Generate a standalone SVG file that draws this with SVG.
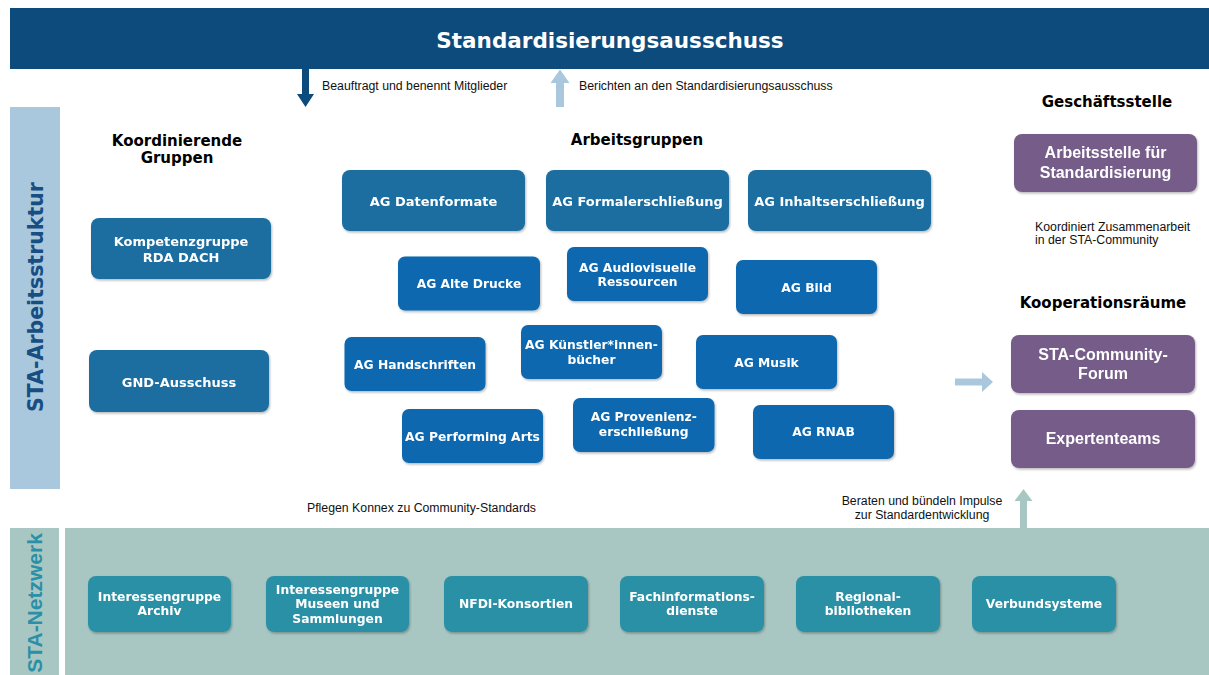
<svg xmlns="http://www.w3.org/2000/svg" width="1209" height="675" viewBox="0 0 1209 675">
<defs>
<filter id="sh" x="-10%" y="-10%" width="125%" height="135%">
<feDropShadow dx="1" dy="1.5" stdDeviation="1.2" flood-color="#000" flood-opacity="0.28"/>
</filter>
<style>
.v{font-family:"DejaVu Sans","Verdana",sans-serif;font-weight:bold}
.a{font-family:"Liberation Sans","Arial",sans-serif}
.ab{font-family:"Liberation Sans","Arial",sans-serif;font-weight:700}
.nt{font-size:12.3px;fill:#fff;text-anchor:middle}
.nt1{font-size:13px;fill:#fff;text-anchor:middle}
.hd{font-size:15px;fill:#000;text-anchor:middle}
.lb{font-size:12.3px;fill:#111}
.pt{font-size:16px;fill:#fff;text-anchor:middle}
.dk{fill:#1a6ea0}
.br{fill:#0a68b0}
.tl{fill:#2b90a6}
.pu{fill:#765d89}
</style>
</defs>
<rect width="1209" height="675" fill="#fff"/>

<g id="banner">
<rect x="10" y="8" width="1199" height="61" fill="#0d4b7c"/>
<text class="v" x="610" y="48" font-size="21.5" fill="#fff" text-anchor="middle">Standardisierungsausschuss</text>
</g>

<g id="arbeitsstruktur-bar">
<rect x="10" y="107" width="50" height="382" fill="#a9c8de"/>
<text class="v" transform="translate(42.5,297) rotate(-90)" font-size="20.5" fill="#174f82" text-anchor="middle">STA-Arbeitsstruktur</text>
</g>

<g id="netzwerk-band">
<rect x="10" y="528" width="49" height="147" fill="#a8c7c2"/>
<rect x="65" y="528" width="1144" height="147" fill="#a8c7c2"/>
<text class="ab" transform="translate(41.5,603) rotate(-90)" font-size="21" fill="#2a8fa7" text-anchor="middle">STA-Netzwerk</text>
</g>

<g id="headers">
<text class="v hd" x="177" y="145.5">Koordinierende</text>
<text class="v hd" x="177" y="162.5">Gruppen</text>
<text class="v hd" x="637" y="145">Arbeitsgruppen</text>
<text class="v hd" x="1107" y="106.5">Geschäftsstelle</text>
<text class="v hd" x="1103" y="308">Kooperationsräume</text>
</g>

<g id="labels">
<text class="a lb" x="322" y="90">Beauftragt und benennt Mitglieder</text>
<text class="a lb" x="579" y="90">Berichten an den Standardisierungsausschuss</text>
<text class="a lb" x="1035" y="230.5">Koordiniert Zusammenarbeit</text>
<text class="a lb" x="1035" y="244">in der STA-Community</text>
<text class="a lb" x="421.5" y="512" text-anchor="middle">Pflegen Konnex zu Community-Standards</text>
<text class="a lb" x="922" y="505" text-anchor="middle">Beraten und bündeln Impulse</text>
<text class="a lb" x="922" y="518.5" text-anchor="middle">zur Standardentwicklung</text>
</g>

<g id="connectors">
<polygon points="302,69 309,69 309,94 314,94 305.5,107 297,94 302,94" fill="#0d4b7c"/>
<polygon points="556,107 564,107 564,83 569.5,83 560,69.5 550.5,83 556,83" fill="#a9c8de"/>
<polygon points="955,378.5 982,378.5 982,372 993,382 982,392 982,385.5 955,385.5" fill="#a9c8de"/>
<polygon points="1020,528 1027,528 1027,501 1032.5,501 1023.5,489 1014.5,501 1020,501" fill="#a8c7c2"/>
</g>

<g id="kompetenzgruppe" filter="url(#sh)">
<rect class="dk" x="91" y="218" width="180" height="61" rx="8"/>
<text class="v nt1" x="181" y="245.5">Kompetenzgruppe</text>
<text class="v nt1" x="181" y="262">RDA DACH</text>
</g>
<g id="gnd-ausschuss" filter="url(#sh)">
<rect class="dk" x="89" y="350" width="180" height="62" rx="8"/>
<text class="v nt1" x="179" y="386.5">GND-Ausschuss</text>
</g>

<g id="ag-datenformate" filter="url(#sh)">
<rect class="dk" x="342" y="170" width="183" height="61" rx="8"/>
<text class="v nt1" x="433.5" y="205.5">AG Datenformate</text>
</g>
<g id="ag-formalerschliessung" filter="url(#sh)">
<rect class="dk" x="546" y="170" width="183" height="61" rx="8"/>
<text class="v nt1" x="637.5" y="205.5">AG Formalerschließung</text>
</g>
<g id="ag-inhaltserschliessung" filter="url(#sh)">
<rect class="dk" x="748" y="170" width="183" height="61" rx="8"/>
<text class="v nt1" x="839.5" y="205.5">AG Inhaltserschließung</text>
</g>

<g id="ag-alte-drucke" filter="url(#sh)">
<rect class="br" x="398" y="256.5" width="142" height="54" rx="7"/>
<text class="v nt" x="469" y="288">AG Alte Drucke</text>
</g>
<g id="ag-audiovisuelle" filter="url(#sh)">
<rect class="br" x="567" y="247" width="141" height="54" rx="7"/>
<text class="v nt" x="637.5" y="271.5">AG Audiovisuelle</text>
<text class="v nt" x="637.5" y="286">Ressourcen</text>
</g>
<g id="ag-bild" filter="url(#sh)">
<rect class="br" x="736" y="260" width="141" height="54" rx="7"/>
<text class="v nt" x="806.5" y="291.5">AG Bild</text>
</g>

<g id="ag-handschriften" filter="url(#sh)">
<rect class="br" x="344.5" y="337" width="141" height="54" rx="7"/>
<text class="v nt" x="415" y="368.5">AG Handschriften</text>
</g>
<g id="ag-kuenstlerinnenbuecher" filter="url(#sh)">
<rect class="br" x="521" y="325" width="141" height="54" rx="7"/>
<text class="v nt" x="591.5" y="348.5">AG Künstler*innen-</text>
<text class="v nt" x="591.5" y="363.5">bücher</text>
</g>
<g id="ag-musik" filter="url(#sh)">
<rect class="br" x="696" y="335" width="141" height="54" rx="7"/>
<text class="v nt" x="766.5" y="367">AG Musik</text>
</g>

<g id="ag-performing-arts" filter="url(#sh)">
<rect class="br" x="402" y="409" width="141" height="54" rx="7"/>
<text class="v nt" x="472.5" y="441">AG Performing Arts</text>
</g>
<g id="ag-provenienzerschliessung" filter="url(#sh)">
<rect class="br" x="573" y="398" width="141.5" height="54" rx="7"/>
<text class="v nt" x="643.7" y="421">AG Provenienz-</text>
<text class="v nt" x="643.7" y="436">erschließung</text>
</g>
<g id="ag-rnab" filter="url(#sh)">
<rect class="br" x="753" y="405" width="141" height="54" rx="7"/>
<text class="v nt" x="823.5" y="436">AG RNAB</text>
</g>

<g id="arbeitsstelle" filter="url(#sh)">
<rect class="pu" x="1014" y="134" width="183" height="58" rx="8"/>
<text class="ab pt" x="1105.5" y="158">Arbeitsstelle für</text>
<text class="ab pt" x="1105.5" y="177.5">Standardisierung</text>
</g>
<g id="community-forum" filter="url(#sh)">
<rect class="pu" x="1011" y="335" width="184" height="58" rx="8"/>
<text class="ab pt" x="1103" y="360">STA-Community-</text>
<text class="ab pt" x="1103" y="378.5">Forum</text>
</g>
<g id="expertenteams" filter="url(#sh)">
<rect class="pu" x="1011" y="410" width="184" height="58" rx="8"/>
<text class="ab pt" x="1103" y="444">Expertenteams</text>
</g>

<g id="ig-archiv" filter="url(#sh)">
<rect class="tl" x="88" y="576" width="143" height="56" rx="8"/>
<text class="v nt" x="159.5" y="600.5">Interessengruppe</text>
<text class="v nt" x="159.5" y="615">Archiv</text>
</g>
<g id="ig-museen" filter="url(#sh)">
<rect class="tl" x="266" y="576" width="143" height="56" rx="8"/>
<text class="v nt" x="337.5" y="593.5">Interessengruppe</text>
<text class="v nt" x="337.5" y="608">Museen und</text>
<text class="v nt" x="337.5" y="623">Sammlungen</text>
</g>
<g id="nfdi" filter="url(#sh)">
<rect class="tl" x="444" y="576" width="144" height="56" rx="8"/>
<text class="v nt" x="516" y="608">NFDI-Konsortien</text>
</g>
<g id="fid" filter="url(#sh)">
<rect class="tl" x="620" y="576" width="144" height="56" rx="8"/>
<text class="v nt" x="692" y="600.5">Fachinformations-</text>
<text class="v nt" x="692" y="615">dienste</text>
</g>
<g id="regionalbibliotheken" filter="url(#sh)">
<rect class="tl" x="796" y="576" width="144" height="56" rx="8"/>
<text class="v nt" x="868" y="600.5">Regional-</text>
<text class="v nt" x="868" y="615">bibliotheken</text>
</g>
<g id="verbundsysteme" filter="url(#sh)">
<rect class="tl" x="972" y="576" width="144" height="56" rx="8"/>
<text class="v nt" x="1044" y="608">Verbundsysteme</text>
</g>
</svg>
